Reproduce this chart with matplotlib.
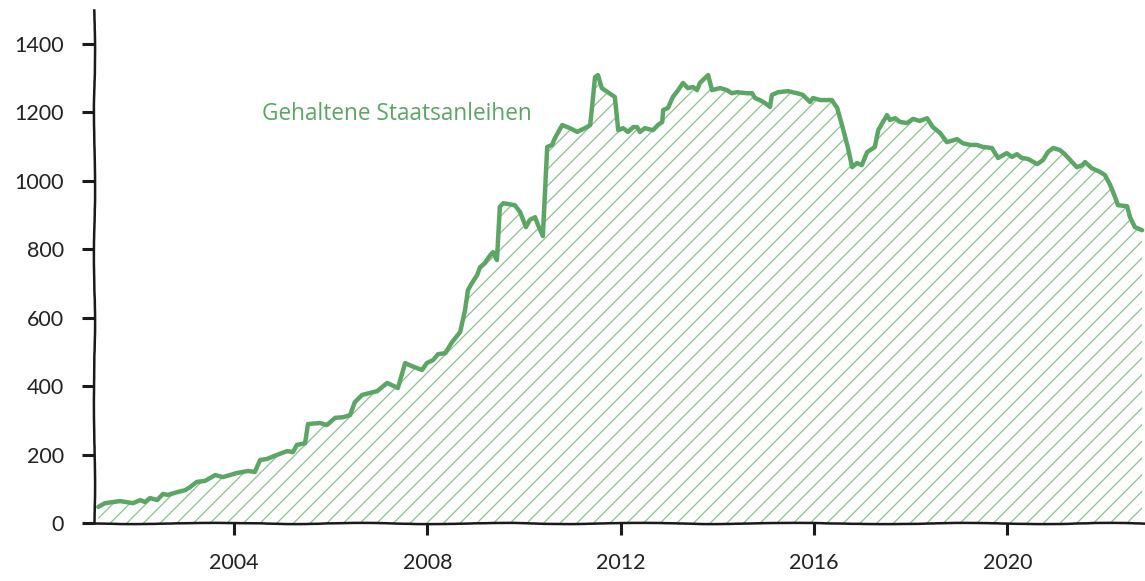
import matplotlib
matplotlib.use("Agg")
import matplotlib.pyplot as plt
import numpy as np

plt.rcParams['font.family'] = ['Lato', 'DejaVu Sans']
plt.rcParams['hatch.linewidth'] = 0.9

# Time (decimal years) and holdings of government bonds
years = [2001.19, 2001.33, 2001.64, 2001.91, 2002.06, 2002.16, 2002.26, 2002.41, 2002.53, 2002.63,
         2002.82, 2002.99, 2003.09, 2003.23, 2003.40, 2003.61, 2003.77, 2004.06, 2004.29, 2004.43,
         2004.54, 2004.68, 2004.89, 2005.10, 2005.22, 2005.30, 2005.47, 2005.53, 2005.78, 2005.92,
         2006.09, 2006.26, 2006.40, 2006.50, 2006.65, 2006.96, 2007.17, 2007.39, 2007.54, 2007.68,
         2007.89, 2007.99, 2008.12, 2008.22, 2008.37, 2008.51, 2008.68, 2008.78, 2008.84, 2008.92,
         2009.03, 2009.09, 2009.19, 2009.30, 2009.36, 2009.44, 2009.50, 2009.57, 2009.81, 2009.92,
         2010.04, 2010.12, 2010.23, 2010.29, 2010.39, 2010.48, 2010.58, 2010.64, 2010.79, 2010.95,
         2011.10, 2011.26, 2011.37, 2011.47, 2011.53, 2011.61, 2011.82, 2011.88, 2011.95, 2012.05,
         2012.15, 2012.26, 2012.34, 2012.40, 2012.50, 2012.67, 2012.77, 2012.86, 2012.88, 2012.98,
         2013.08, 2013.19, 2013.29, 2013.39, 2013.50, 2013.58, 2013.64, 2013.81, 2013.89, 2014.06,
         2014.20, 2014.30, 2014.41, 2014.61, 2014.72, 2014.78, 2014.88, 2014.99, 2015.09, 2015.13,
         2015.26, 2015.46, 2015.65, 2015.77, 2015.92, 2015.98, 2016.13, 2016.37, 2016.48, 2016.58,
         2016.70, 2016.79, 2016.89, 2016.99, 2017.10, 2017.26, 2017.33, 2017.51, 2017.57, 2017.68,
         2017.78, 2017.93, 2018.05, 2018.19, 2018.34, 2018.46, 2018.61, 2018.75, 2018.96, 2019.08,
         2019.23, 2019.37, 2019.50, 2019.68, 2019.81, 2019.99, 2020.10, 2020.20, 2020.30, 2020.43,
         2020.62, 2020.74, 2020.84, 2020.95, 2021.09, 2021.19, 2021.34, 2021.44, 2021.55, 2021.61,
         2021.75, 2021.92, 2022.02, 2022.13, 2022.23, 2022.29, 2022.48, 2022.54, 2022.64, 2022.79]

holdings = [47, 58, 64, 58, 67, 61, 73, 67, 85, 82,
            90, 96, 105, 120, 123, 140, 134, 146, 152, 149,
            184, 187, 199, 210, 207, 228, 233, 289, 292, 286,
            307, 309, 315, 353, 374, 385, 409, 394, 467, 458,
            447, 467, 476, 493, 496, 528, 558, 622, 680, 700,
            724, 747, 759, 782, 791, 768, 923, 934, 928, 908,
            864, 885, 893, 870, 838, 1098, 1104, 1124, 1162, 1153,
            1142, 1153, 1162, 1302, 1308, 1270, 1250, 1244, 1147, 1153,
            1142, 1156, 1156, 1142, 1153, 1147, 1162, 1171, 1206, 1212,
            1244, 1264, 1285, 1270, 1273, 1264, 1285, 1308, 1264, 1270,
            1264, 1255, 1258, 1255, 1255, 1241, 1235, 1226, 1215, 1250,
            1258, 1261, 1255, 1250, 1229, 1241, 1235, 1235, 1212, 1162,
            1098, 1039, 1051, 1045, 1083, 1098, 1147, 1191, 1177, 1182,
            1171, 1168, 1180, 1174, 1182, 1156, 1139, 1112, 1121, 1109,
            1104, 1104, 1098, 1095, 1066, 1080, 1069, 1077, 1066, 1063,
            1048, 1060, 1083, 1095, 1089, 1077, 1054, 1039, 1045, 1054,
            1036, 1025, 1016, 987, 952, 928, 925, 893, 864, 855]

x_ticks = [2004, 2008, 2012, 2016, 2020]
y_ticks = [0, 200, 400, 600, 800, 1000, 1200, 1400]
series_label = "Gehaltene Staatsanleihen"

green = '#5ca665'

fig = plt.figure(figsize=(11.45, 5.81), dpi=100)
ax = fig.add_axes([0.082, 0.0998, 0.918, 0.883])

x = np.array(years)
y = np.array(holdings)

# hatched area
ax.fill_between(x, 0, y, facecolor='none', edgecolor=green, hatch='//', linewidth=0, alpha=0.7)
ax.plot(x, y, color=green, lw=3.2, solid_joinstyle='round', solid_capstyle='round', zorder=3)

ax.text(2004.58, 1194, series_label, color=green, fontsize=16.3, va='center', ha='left',
        family=['Open Sans', 'DejaVu Sans'])

ax.set_xlim(2001.10, 2022.85)
ax.set_ylim(0, 1498)
ax.set_xticks(x_ticks)
ax.set_xticklabels([str(v) for v in x_ticks])
ax.set_yticks(y_ticks)
ax.set_yticklabels([str(v) for v in y_ticks])

for s in ['top', 'right']:
    ax.spines[s].set_visible(False)
for s in ['left', 'bottom']:
    ax.spines[s].set_linewidth(1.8)
    ax.spines[s].set_color('#1a1a1a')
    ax.spines[s].set_sketch_params(scale=0.6, length=300, randomness=8)

ax.tick_params(axis='both', length=8.5, width=2.2, color='#1a1a1a', direction='out',
               labelsize=15.5, labelcolor='#222222', pad=13)

fig.savefig('out.png', dpi=100)
